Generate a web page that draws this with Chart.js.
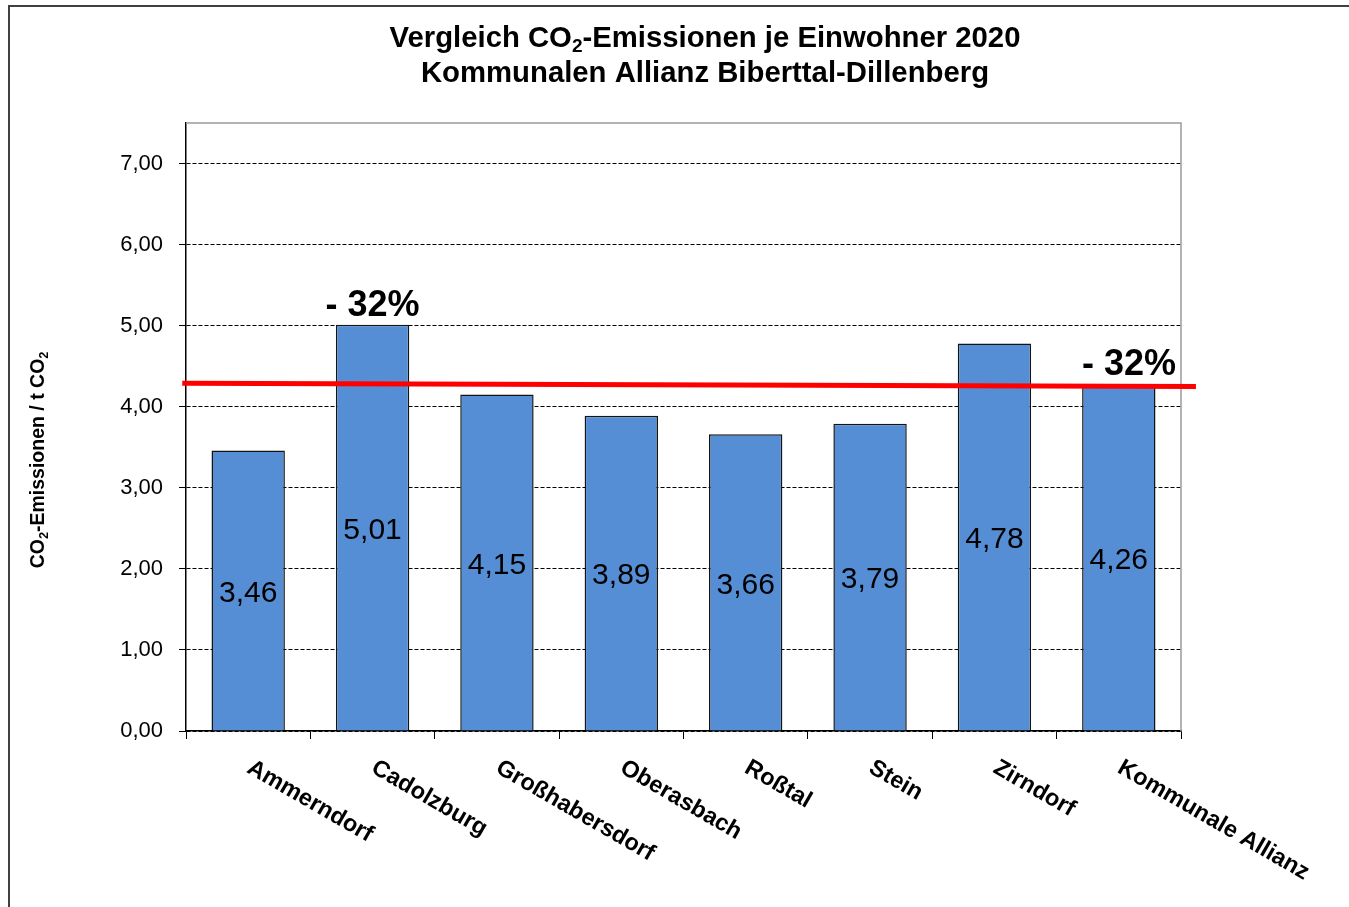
<!DOCTYPE html>
<html><head><meta charset="utf-8">
<script src="https://cdn.jsdelivr.net/npm/chart.js@4/dist/chart.umd.min.js"></script>
<style>html,body{margin:0;padding:0;background:#fff;overflow:hidden}canvas{display:block}</style>
</head><body>
<canvas id="c" width="1349" height="907"></canvas>
<script>
const categories = ['Ammerndorf','Cadolzburg','Großhabersdorf','Oberasbach','Roßtal','Stein','Zirndorf','Kommunale Allianz'];
const emissions = [3.46, 5.01, 4.15, 3.89, 3.66, 3.79, 4.78, 4.26];
const yTickValues = [0, 1, 2, 3, 4, 5, 6, 7];
const yAxisMin = 0;
const yAxisMax = 7.5;
const redLineX = [-0.03, 8.12];
const redLineY = [4.29, 4.25];
const reductionLabels = ['- 32%', '- 32%'];
const reductionIndex = [1, 7];
const titleLine1 = [['Vergleich CO', 0], ['2', 1], ['-Emissionen je Einwohner 2020', 0]];
const titleLine2 = [['Kommunalen Allianz Biberttal-Dillenberg', 0]];
const yTitleParts = [['CO', 0], ['2', 1], ['-Emissionen / t CO', 0], ['2', 1]];

const FONT = '"Liberation Sans", Arial, Helvetica, sans-serif';
const fmt = v => v.toFixed(2).replace('.', ',');

function richWidth(ctx, parts, size, weight) {
  let w = 0;
  for (const [t, sub] of parts) {
    ctx.font = weight + ' ' + (sub ? size * 0.65 : size) + 'px ' + FONT;
    w += ctx.measureText(t).width;
  }
  return w;
}
function drawRich(ctx, parts, cx, baseline, size, weight) {
  const total = richWidth(ctx, parts, size, weight);
  let x = cx - total / 2;
  ctx.textAlign = 'left';
  ctx.textBaseline = 'alphabetic';
  for (const [t, sub] of parts) {
    ctx.font = weight + ' ' + (sub ? size * 0.65 : size) + 'px ' + FONT;
    ctx.fillText(t, x, baseline + (sub ? size * 0.18 : 0));
    x += ctx.measureText(t).width;
  }
}

const decorPlugin = {
  id: 'decor',
  beforeDatasetsDraw(chart) {
    const {ctx, chartArea: a} = chart;
    ctx.save();
    ctx.strokeStyle = '#9a9a9a';
    ctx.lineWidth = 1.5;
    ctx.beginPath();
    ctx.moveTo(a.left, a.top);
    ctx.lineTo(a.right, a.top);
    ctx.lineTo(a.right, a.bottom);
    ctx.stroke();
    ctx.restore();
  },
  afterDatasetsDraw(chart) {
    const {ctx} = chart;
    const meta = chart.getDatasetMeta(1);
    const ys = chart.scales.y;
    ctx.save();
    ctx.fillStyle = '#000';
    ctx.textAlign = 'center';
    ctx.textBaseline = 'middle';
    ctx.font = '30px ' + FONT;
    meta.data.forEach((bar, i) => {
      const p = bar.getProps(['x', 'y', 'base'], true);
      ctx.fillText(fmt(emissions[i]), p.x, (p.y + p.base) / 2 + 3);
    });
    // reduction labels
    ctx.font = 'bold 36px ' + FONT;
    ctx.textBaseline = 'alphabetic';
    reductionIndex.forEach((idx, k) => {
      const bar = meta.data[idx].getProps(['x', 'y'], true);
      if (k === 0) {
        ctx.textAlign = 'center';
        ctx.fillText(reductionLabels[k], bar.x, bar.y - 9);
      } else {
        ctx.textAlign = 'right';
        ctx.fillText(reductionLabels[k], chart.chartArea.right - 5, ys.getPixelForValue(redLineY[1]) - 11);
      }
    });
    ctx.restore();
  },
  afterDraw(chart) {
    const {ctx, chartArea: a} = chart;
    const xs = chart.scales.x;
    ctx.save();
    // outer frame
    ctx.strokeStyle = '#404040';
    ctx.lineWidth = 2;
    ctx.strokeRect(9, 6, 1400, 1000);
    ctx.fillStyle = '#000';
    // title
    drawRich(ctx, titleLine1, 705, 47, 29.3, 'bold');
    drawRich(ctx, titleLine2, 705, 82, 29.3, 'bold');
    // y axis title
    ctx.save();
    ctx.translate(44, 460);
    ctx.rotate(-Math.PI / 2);
    drawRich(ctx, yTitleParts, 0, 0, 19.5, 'bold');
    ctx.restore();
    // x labels
    const ang = 30 * Math.PI / 180;
    ctx.font = 'bold 23.5px ' + FONT;
    ctx.textAlign = 'left';
    ctx.textBaseline = 'alphabetic';
    categories.forEach((c, i) => {
      const x = xs.getPixelForValue(i) + 6;
      ctx.save();
      ctx.translate(x, a.bottom + 26);
      ctx.rotate(ang);
      ctx.fillText(c, 0, 17);
      ctx.restore();
    });
    ctx.restore();
  }
};

Chart.defaults.font.family = FONT;
new Chart(document.getElementById('c'), {
  data: {
    labels: categories,
    datasets: [
      {
        type: 'line',
        label: 'Ziel',
        xAxisID: 'xl',
        yAxisID: 'y',
        data: redLineX.map((x, i) => ({x, y: redLineY[i]})),
        borderColor: '#ff0000',
        borderWidth: 5,
        pointRadius: 0,
        clip: false,
        order: 0
      },
      {
        type: 'bar',
        label: 'CO2',
        xAxisID: 'x',
        yAxisID: 'y',
        data: emissions,
        backgroundColor: '#558ed5',
        borderColor: '#141414',
        borderWidth: 1.5,
        barPercentage: 0.59,
        categoryPercentage: 1,
        grouped: false,
        order: 1
      }
    ]
  },
  options: {
    responsive: false,
    animation: false,
    devicePixelRatio: 1,
    layout: {padding: {top: 123, right: 168, left: 0, bottom: 0}},
    plugins: {legend: {display: false}, title: {display: false}, tooltip: {enabled: false}},
    scales: {
      x: {
        type: 'category',
        offset: true,
        grid: {display: true, drawOnChartArea: false, drawTicks: true, tickLength: 8, color: '#000', tickColor: '#000', offset: true},
        border: {display: true, color: '#000', width: 1.5},
        ticks: {display: false},
        afterFit: s => { s.height = 176; }
      },
      xl: {
        type: 'linear', display: false, min: 0, max: 8
      },
      y: {
        min: yAxisMin, max: yAxisMax,
        afterBuildTicks: s => { s.ticks = yTickValues.map(v => ({value: v})); },
        grid: {color: '#000', lineWidth: 1, tickLength: 7, tickColor: '#000', tickBorderDash: [], drawTicks: true},
        border: {display: true, color: '#000', width: 1.5, dash: [4, 2]},
        ticks: {color: '#000', padding: 16, font: {size: 22}, callback: v => fmt(v)},
        afterFit: s => { s.width = 186; }
      }
    }
  },
  plugins: [decorPlugin]
});
</script>
</body></html>
